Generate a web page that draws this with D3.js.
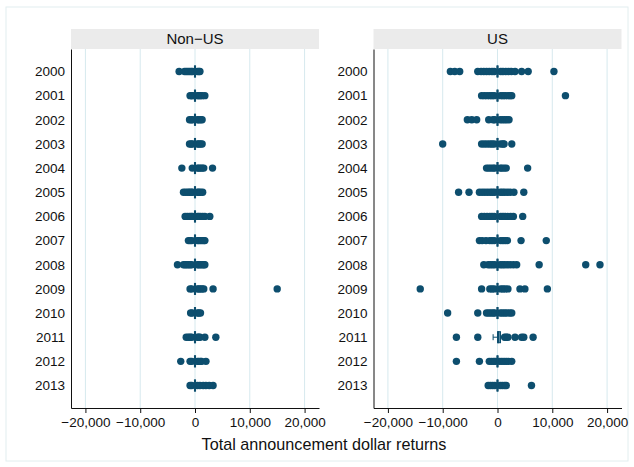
<!DOCTYPE html>
<html>
<head>
<meta charset="utf-8">
<script src="https://cdn.jsdelivr.net/npm/d3@7"></script>
<style>
  body { margin: 0; background: #fff; }
  svg text { font-family: "Liberation Sans", Arial, sans-serif; fill: #111; }
  .axis path, .axis line { stroke: #111; }
</style>
</head>
<body>
<svg id="chart" width="634" height="467"></svg>
<script>
// Years shown on each panel (categorical axis)
const years = ['2000','2001','2002','2003','2004','2005','2006','2007','2008','2009','2010','2011','2012','2013'];
const xTicks = [-20000, -10000, 0, 10000, 20000];

// Box stats per year: [lower whisker, q1, median, q3, upper whisker]
const nonUSBox = years.map(() => [-300, -100, 0, 100, 300]);
const usBox = [
  [-300,-100,0,100,300],[-300,-100,0,100,300],[-300,-100,0,100,300],[-300,-100,0,100,300],
  [-300,-100,0,100,300],[-300,-100,0,100,300],[-300,-100,0,100,300],[-300,-100,0,100,300],
  [-300,-100,0,100,300],[-300,-100,0,100,300],[-300,-100,0,100,300],
  [-800, 0, 150, 550, 1100],
  [-300,-100,0,100,300],[-300,-100,0,100,300]
];

// Outside values per year
const nonUSOut = [
  [-2900,-1900,-1600,-1300,-1000,-700,-450,450,700,900],
  [-900,-600,-450,450,700,1000,1300,1800],
  [-1000,-700,-450,450,700,1000,1300],
  [-1000,-700,-450,450,700,1000,1300],
  [-2400,-500,450,700,1000,1300,1600,3200],
  [-2100,-1700,-1300,-1000,-700,-450,450,700,1000,1400],
  [-1800,-1400,-1000,-700,-450,450,700,1000,1400,1800,2700],
  [-1200,-900,-600,450,700,1000,1300,1600,1800],
  [-3200,-2100,-1800,-1500,-1200,-900,-600,450,700,1000,1300,1600,1800],
  [-900,-600,450,700,1000,1300,1600,3300,15000],
  [-800,-500,450,700,1000],
  [-1600,-1200,-900,-600,450,700,900,1800,3800],
  [-2600,-900,-600,450,700,1000,1200,2000],
  [-900,-600,450,900,1500,2000,2600,3300]
];
const usOut = [
  [-8600,-7800,-6900,-3600,-3000,-2500,-2000,-1500,-1000,-600,600,1000,1500,2000,2500,3200,4400,5600,10300],
  [-2900,-2400,-1900,-1400,-1000,-600,600,1000,1400,1900,2300,2600,12400],
  [-5500,-4700,-3800,-1600,-800,-500,500,900,1300,1700,2100],
  [-10000,-2900,-2400,-1900,-1400,-1000,-600,600,1000,1200,2600],
  [-2000,-1600,-1200,-800,-500,500,800,1200,1600,5500],
  [-7100,-5200,-3300,-2800,-2300,-1800,-1300,-900,-500,500,900,1300,1800,2300,3000,4800],
  [-2900,-2400,-1900,-1400,-1000,-600,600,1000,1400,1900,2400,2900,4600],
  [-3300,-2800,-2100,-1400,-1000,-600,600,1000,1400,1800,4300,8900],
  [-2500,-1700,-1300,-900,-500,500,900,1300,1800,2300,2900,3500,7600,16100,18700],
  [-14100,-2900,-1400,-1000,-600,600,1000,1400,1900,4100,5000,9100],
  [-9100,-3600,-2000,-1600,-1200,-800,-500,500,900,1300,1700,2200,2600],
  [-7500,-3600,1300,1600,1900,3200,4400,4800,6500],
  [-7500,-3300,-1500,-1100,-700,-400,400,800,1200,1600,2000,2600],
  [-1700,-1300,-900,-500,500,900,1300,1600,6200]
];

const dotColor = '#0d4e6e';
const gridColor = '#d6e9ee';

const svg = d3.select('#chart');

// outer graph region frame
svg.append('rect')
  .attr('x', 6).attr('y', 7).attr('width', 622).attr('height', 454)
  .attr('fill', '#fff').attr('stroke', '#e2eeef');

const panelW = 248, panelH = 359, panelTop = 49;

const x = d3.scaleLinear().domain([-22630, 22630]).range([0, panelW]);
const y = d3.scalePoint().domain(years).range([0, panelH]).padding(0.93);

function drawPanel(left, title, boxes, outs) {
  const g = svg.append('g').attr('transform', `translate(${left},${panelTop})`);

  // strip header
  g.append('rect').attr('x', 0).attr('y', -20).attr('width', panelW).attr('height', 20)
    .attr('fill', '#ebebeb');
  g.append('text').attr('x', panelW / 2).attr('y', -10).attr('dy', '0.35em')
    .attr('text-anchor', 'middle').style('font-size', '15px').text(title);

  // gridlines
  g.selectAll('.grid').data(xTicks).join('line')
    .attr('class', 'grid')
    .attr('x1', d => x(d)).attr('x2', d => x(d))
    .attr('y1', 0).attr('y2', panelH)
    .attr('stroke', gridColor).attr('stroke-width', 1);

  const rows = g.selectAll('.row').data(years).join('g')
    .attr('class', 'row')
    .attr('transform', d => `translate(0,${y(d)})`);

  // whiskers and box
  rows.each(function (d, i) {
    const b = boxes[i];
    const r = d3.select(this);
    r.append('line').attr('x1', x(b[0])).attr('x2', x(b[1])).attr('stroke', dotColor);
    r.append('line').attr('x1', x(b[3])).attr('x2', x(b[4])).attr('stroke', dotColor);
    [b[0], b[4]].forEach(v => r.append('line')
      .attr('x1', x(v)).attr('x2', x(v)).attr('y1', -3).attr('y2', 3)
      .attr('stroke', dotColor));
    r.append('rect').attr('x', x(b[1])).attr('y', -5.5)
      .attr('width', x(b[3]) - x(b[1])).attr('height', 11)
      .attr('fill', '#5b8aa2').attr('stroke', dotColor).attr('stroke-width', 1);
  });

  // outside values
  rows.selectAll('circle').data((d, i) => outs[i]).join('circle')
    .attr('cx', v => x(v)).attr('cy', 0).attr('r', 3.7)
    .attr('fill', dotColor);

  // median line drawn on top
  rows.append('line')
    .attr('x1', (d, i) => x(boxes[i][2])).attr('x2', (d, i) => x(boxes[i][2]))
    .attr('y1', -6).attr('y2', 6)
    .attr('stroke', dotColor).attr('stroke-width', 1.5);

  // axes
  g.append('g').attr('class', 'axis')
    .call(d3.axisLeft(y).tickSize(0).tickPadding(6))
    .call(a => a.selectAll('text').style('font-size', '13.5px'));

  g.append('g').attr('class', 'axis').attr('transform', `translate(0,${panelH})`)
    .call(d3.axisBottom(x).tickValues(xTicks).tickSize(5).tickSizeOuter(0).tickPadding(4)
      .tickFormat(d3.format(',')))
    .call(a => a.selectAll('text').style('font-size', '13.5px'));
}

drawPanel(71, 'Non\u2212US', nonUSBox, nonUSOut);
drawPanel(373.5, 'US', usBox, usOut);

svg.append('text')
  .attr('x', 324).attr('y', 450)
  .attr('text-anchor', 'middle')
  .style('font-size', '16.2px')
  .text('Total announcement dollar returns');
</script>
</body>
</html>
